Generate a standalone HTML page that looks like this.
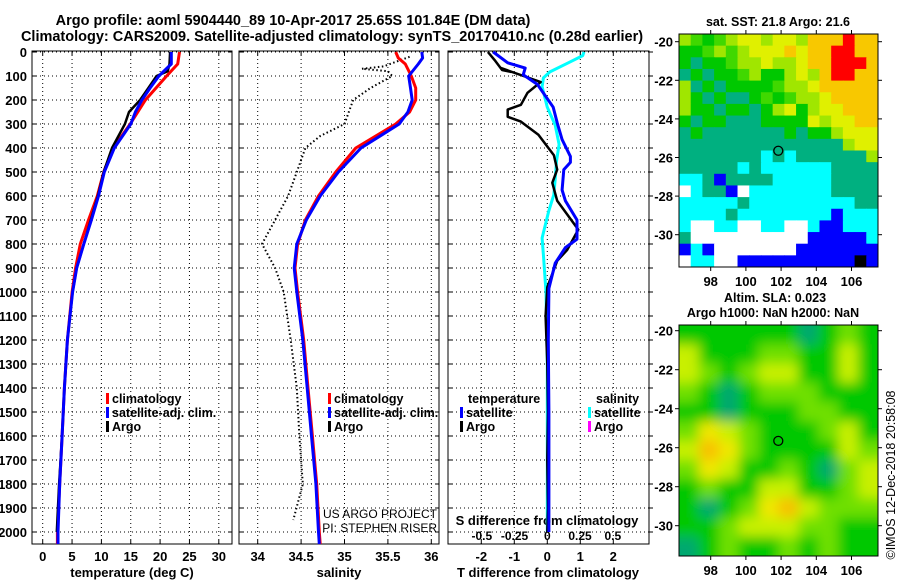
<!DOCTYPE html>
<html><head><meta charset="utf-8"><style>
body{margin:0;background:#fff}
svg{display:block;font-family:"Liberation Sans",sans-serif;font-weight:bold}
</style></head><body>
<svg id="c" width="900" height="580" viewBox="0 0 900 580" xmlns="http://www.w3.org/2000/svg">
<defs>
<clipPath id="cp1"><rect x="679" y="34" width="199" height="233"/></clipPath>
<clipPath id="cp2"><rect x="679" y="325" width="199" height="231"/></clipPath>
<filter id="bl" x="-10%" y="-10%" width="120%" height="120%"><feGaussianBlur stdDeviation="6"/></filter>
</defs>
<text x="293" y="25" font-size="14.5" text-anchor="middle">Argo profile: aoml 5904440_89 10-Apr-2017 25.65S 101.84E (DM data)</text>
<text x="332" y="41" font-size="14.5" text-anchor="middle">Climatology: CARS2009. Satellite-adjusted climatology: synTS_20170410.nc (0.28d earlier)</text>
<g id="g"></g>
</svg>
<script>
// ---- data ----
const climDepth=[0,50,100,150,200,250,300,400,500,600,700,800,900,1000,1200,1400,1600,1800,2000,2050];
const climT=[23.3,23,21.1,19.3,17.5,16.2,14.9,12,10.4,9.3,7.8,6.4,5.6,5.0,4.2,3.7,3.3,2.9,2.5,2.5];
const satT=[21.9,21.9,19.8,18.3,16.9,15.8,15,12.2,10.5,9.5,8.3,7.0,5.8,5.1,4.2,3.7,3.3,2.9,2.6,2.6];
const argoDepth=[0,50,80,100,150,200,250,300,400,500,600,700,800,900,1000,1200,1400,1600,1800,2000];
const argoT=[21.7,21.6,21.3,19.4,18,16.6,14.7,14,11.8,10.4,9.4,8.2,7,5.8,5.1,4.2,3.7,3.3,2.8,2.4];
const salDepth=[0,25,50,100,150,200,250,300,400,500,600,700,800,900,1000,1200,1400,1600,1800,2000,2050];
const climS=[35.59,35.62,35.7,35.77,35.82,35.82,35.75,35.59,35.13,34.9,34.7,34.55,34.46,34.43,34.46,34.53,34.58,34.63,34.68,34.71,34.72];
const satS=[35.89,35.9,35.85,35.74,35.76,35.78,35.73,35.63,35.19,34.93,34.72,34.56,34.45,34.42,34.45,34.52,34.57,34.62,34.67,34.70,34.71];
const argoSDepth=[20,40,60,70,80,100,150,200,250,300,350,400,500,600,700,800,900,1000,1200,1400,1600,1800,1950];
const argoS=[35.75,35.6,35.45,35.2,35.5,35.55,35.3,35.1,35.05,35.0,34.72,34.55,34.45,34.35,34.2,34.05,34.2,34.3,34.38,34.45,34.48,34.52,34.41];
const dTArgoDepth=[0,33,75,83,67,125,170,220,240,270,290,345,430,490,545,620,740,825,870,980,1100,1300,1500,1700,1900,2000];
const dTArgo=[-1.8,-1.6,-1.37,-1.1,-1.4,-0.2,-0.6,-0.8,-1.2,-1.2,-0.8,-0.27,0.2,0.3,0.15,0.3,0.94,0.6,0.3,0,-0.05,0,0.02,0,0.02,0];
const dTSatDepth=[0,45,67,95,135,230,295,365,435,460,490,575,620,700,780,815,880,985,1200,1500,1800,2000];
const dTSat=[-1.64,-1.2,-0.67,-0.73,-0.3,0.18,0.3,0.45,0.7,0.7,0.5,0.45,0.55,0.9,0.9,0.55,0.24,0.05,0.03,0.05,0.05,0.05];
const dSSatDepth=[0,15,45,83,108,145,230,305,385,455,530,595,665,775,845,1000,1300,1600,2000];
const dSSat=[0.28,0.27,0.16,0.02,-0.03,-0.04,0,0.06,0.09,0.07,0.06,0.05,0.01,-0.04,-0.03,-0.01,0,0,0];
const depthTicks=[0,100,200,300,400,500,600,700,800,900,1000,1100,1200,1300,1400,1500,1600,1700,1800,1900,2000];
const tempTicks=[0,5,10,15,20,25,30];
const salTicks=[34,34.5,35,35.5,36];
const dTTicks=[-2,-1,0,1,2];
const dSTicks=[-0.5,-0.25,0,0.25,0.5];
const lonTicks=[98,100,102,104,106];
const latTicks=[-20,-22,-24,-26,-28,-30];
const sstRows=["LgGgLYYLYYLOOOROO","GGgLgLYYYOYOORROO","GDGGgLLYLLYOORRRO","DGDGGgLGGLYLORROO","LDGDGGGGgLLYOOOOO","LGDGDDGgGgLLYOOOO","LGGDGGDGLYGLYYOOO","GDGGDDDGGGGYLYYOO","DGDDDDDDDGDGGLYYY","DDDDDDDDDDDDDDLYY","DDDDDDDCDCDDDDDDL","DDDDDCDCCCCCCDDDD","CCDBDDDDCCCCCDDDD","WCDDBWCCCCCCCDDDD","CCCCCDCCCCCCCCCDD","CCCCDCCCCCCCCBCCC","CWWCCWWCCWWCBBCCC","DWWWWWWWWWWBBBBBC","BCBWWWWWWWBBBBBBB","WCCWWBBBBBBBBBBKB"];
const slaRows=["1111110121","3111221131","3212331131","2101222111","1101112211","2432111231","3542111132","2431121023","1211331123","1012453222","1123332211","0121121211"];
// ---- scales ----
const yD=d=>52+d*0.24;
const xT=t=>42.7+t*5.87;
const xS=s=>257.7+(s-34)*86.8;
const xTd=v=>547.3+v*33;
const xSd=v=>547.3+v*131;
const xLon=l=>710.7+(l-98)*17.6;
const yLat1=l=>41.7+(-20-l)*19.3;
const yLat2=l=>330.7+(-20-l)*19.5;
const NS="http://www.w3.org/2000/svg";
const G=document.getElementById('g');
function mk(tag,attrs,parent){const e=document.createElementNS(NS,tag);for(const k in attrs)e.setAttribute(k,attrs[k]);(parent||G).appendChild(e);return e;}
function txt(x,y,s,size,anchor,parent){const e=mk('text',{x:x,y:y,'font-size':size,'text-anchor':anchor||'middle'},parent);e.textContent=s;return e;}
function line(xs,ys,vals,depths,color,w,dash){let p='';for(let i=0;i<vals.length;i++)p+=(i?'L':'M')+xs(vals[i]).toFixed(1)+' '+yD(depths[i]).toFixed(1);const a={d:p,fill:'none',stroke:color,'stroke-width':w,'stroke-linejoin':'round'};if(dash)a['stroke-dasharray']=dash;return mk('path',a);}
// panels
const panels=[{x0:32,x1:232,xs:xT,ticks:tempTicks,name:'temperature-panel'},{x0:239,x1:439,xs:xS,ticks:salTicks,name:'salinity-panel'},{x0:448,x1:649,xs:xTd,ticks:dTTicks,name:'difference-panel'}];
panels.forEach((p,pi)=>{
  const fr=mk('rect',{x:p.x0,y:51,width:p.x1-p.x0,height:493,fill:'none',stroke:'#000','stroke-width':1});
  
  
  depthTicks.forEach(d=>{mk('line',{x1:p.x0,x2:p.x1,y1:yD(d),y2:yD(d),stroke:'#000','stroke-dasharray':'1 3'});mk('line',{x1:p.x0,x2:p.x0+4,y1:yD(d),y2:yD(d),stroke:'#000'});mk('line',{x1:p.x1,x2:p.x1+(pi==2?4:-4),y1:yD(d),y2:yD(d),stroke:'#000'});});
  p.ticks.forEach(t=>{const x=p.xs(t);mk('line',{x1:x,x2:x,y1:51,y2:544,stroke:'#000','stroke-dasharray':'1 3'});mk('line',{x1:x,x2:x,y1:544,y2:540,stroke:'#000'});mk('line',{x1:x,x2:x,y1:51,y2:55,stroke:'#000'});
    const tl=txt(x,561,String(t),13);
    
    });
});
depthTicks.forEach(d=>{const t=txt(27,yD(d)+5,String(d),13,'end');
  
  });
[['temperature (deg C)',132],['salinity',339],['T difference from climatology',548]].forEach(a=>{const t=txt(a[1],577,a[0],13);
  
  });
// panel 3 S axis
txt(547,525,'S difference from climatology',13);
dSTicks.forEach(v=>{const t=txt(xSd(v),540,String(v),12);
  
  });
// series
let s;
s=line(xT,null,climT,climDepth,'#f00',3);
s=line(xT,null,argoT,argoDepth,'#000',2.5);
s=line(xT,null,satT,climDepth,'#00f',3);
s=line(xS,null,argoS,argoSDepth,'#000',2,'1.5 2.5');
s=line(xS,null,climS,salDepth,'#f00',3);
s=line(xS,null,satS,salDepth,'#00f',3);
s=line(xSd,null,dSSat,dSSatDepth,'#0ff',3);
s=line(xTd,null,dTArgo,dTArgoDepth,'#000',2.5);
s=line(xTd,null,dTSat,dTSatDepth,'#00f',3);
// legends
function leg(x,y,col,label){mk('rect',{x:x,y:y-10,width:3,height:11,fill:col});const t=txt(x+6,y,label,12.5,'start');
  
  }
leg(106,403,'#f00','climatology');leg(106,417,'#00f','satellite-adj. clim.');leg(106,431,'#000','Argo');
leg(328,403,'#f00','climatology');leg(328,417,'#00f','satellite-adj. clim.');leg(328,431,'#000','Argo');
txt(468,403,'temperature',12.5,'start');leg(460,417,'#00f','satellite');leg(460,431,'#000','Argo');
txt(596,403,'salinity',12.5,'start');leg(588,417,'#0ff','satellite');leg(588,431,'#f0f','Argo');
const c1=txt(437,518,'US ARGO PROJECT',12,'end');c1.setAttribute('font-weight','normal');
const c2=txt(437,532,'PI: STEPHEN RISER',12,'end');c2.setAttribute('font-weight','normal');
// SST map
const sstCol={L:'#a0e600',g:'#40d800',G:'#00c800',D:'#00b080',Y:'#e0f000',O:'#f8c800',R:'#ff0000',C:'#00ffff',B:'#0000ff',W:'#ffffff',K:'#000000'};
const m1=mk('g',{'clip-path':'url(#cp1)'});


const cw=199/17,ch=233/20;
sstRows.forEach((r,i)=>{for(let j=0;j<r.length;j++)mk('rect',{x:(679+j*cw).toFixed(2),y:(34+i*ch).toFixed(2),width:(cw+0.6).toFixed(2),height:(ch+0.6).toFixed(2),fill:sstCol[r[j]]},m1);});
// SLA map
const slaCol=['#00a870','#00c800','#70e000','#c8f000','#f0e800','#f8c000'];
const m2=mk('g',{'clip-path':'url(#cp2)'});


mk('rect',{x:679,y:325,width:199,height:231,fill:'#00c800'},m2);
const bg=mk('g',{filter:'url(#bl)'},m2);
const sw=199/10,sh=231/12;
slaRows.forEach((r,i)=>{for(let j=0;j<r.length;j++)mk('rect',{x:(679+j*sw-(j==0?20:0)).toFixed(2),y:(325+i*sh-(i==0?20:0)).toFixed(2),width:(sw+(j==0||j==9?20:0)+0.5).toFixed(2),height:(sh+(i==0||i==11?20:0)+0.5).toFixed(2),fill:slaCol[+r[j]]},bg);});
// map frames & ticks
[[34,267,yLat1],[325,556,yLat2]].forEach((m,k)=>{
  mk('rect',{x:679,y:m[0],width:199,height:m[1]-m[0],fill:'none',stroke:'#000'});
  latTicks.forEach(l=>{const y=m[2](l);mk('line',{x1:679,x2:675,y1:y,y2:y,stroke:'#000'});mk('line',{x1:878,x2:882,y1:y,y2:y,stroke:'#000'});
    const t=txt(673,y+5,String(l),13,'end');
    
    });
  lonTicks.forEach(l=>{const x=xLon(l);mk('line',{x1:x,x2:x,y1:m[1],y2:m[1]+4,stroke:'#000'});mk('line',{x1:x,x2:x,y1:m[0],y2:m[0]-4,stroke:'#000'});
    const t=txt(x,m[1]+19,String(l),13);
    
    });
  mk('circle',{cx:xLon(101.84),cy:m[2](-25.65),r:4.5,fill:'none',stroke:'#000','stroke-width':1.3});
});
txt(778,26,'sat. SST: 21.8 Argo: 21.6',12.5);
txt(775,302,'Altim. SLA: 0.023',12.5);
txt(773,317,'Argo h1000: NaN h2000: NaN',12.5);
const im=txt(0,0,'©IMOS 12-Dec-2018 20:58:08',12.5,'middle');
im.setAttribute('font-weight','normal');
im.setAttribute('transform','translate(895,475) rotate(-90)');


</script>
</body></html>
